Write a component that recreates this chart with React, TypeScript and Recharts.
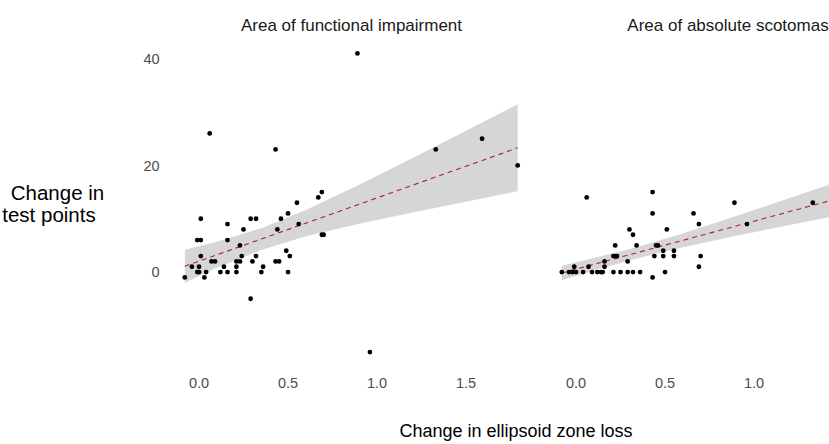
import React from "react";
import { ComposedChart, Scatter, Line, Area, XAxis, YAxis } from "recharts";

// Panel titles
const panelTitles = ["Area of functional impairment", "Area of absolute scotomas"];

// Tick labels
const xTicksLeft = [0, 0.5, 1, 1.5];
const xTicksRight = [0, 0.5, 1];
const yTicks = [0, 20, 40];

// Area of functional impairment: points (x = change in EZ loss, y = change in test points)
const fiX = [-0.08, -0.04, -0.01, 0.0, 0.0, 0.01, -0.01, 0.01, 0.01, 0.03, 0.04, 0.06, 0.07, 0.09, 0.12, 0.14, 0.16, 0.16, 0.16, 0.21, 0.21, 0.21, 0.23, 0.23, 0.24, 0.25, 0.29, 0.29, 0.32, 0.3, 0.32, 0.35, 0.36, 0.43, 0.44, 0.43, 0.45, 0.46, 0.49, 0.5, 0.51, 0.5, 0.55, 0.56, 0.67, 0.69, 0.69, 0.7, 0.89, 0.96, 1.33, 1.59, 1.79];
const fiY = [-1, 1, 0, 0, 1, 3, 6, 6, 10, -1, 0, 26, 2, 2, 0, 1, 0, 6, 9, 0, 1, 2, 2, 5, 3, 8, -5, 10, 10, 2, 3, 0, 1, 23, 8, 2, 2, 10, 4, 11, 3, 0, 13, 9, 14, 15, 7, 7, 41, -15, 23, 25, 20];

// Area of absolute scotomas: points
const asX = [-0.08, -0.04, -0.02, 0.0, 0.04, 0.09, 0.12, 0.14, 0.15, 0.21, 0.25, 0.29, 0.32, 0.36, 0.5, -0.01, 0.07, 0.16, 0.16, 0.21, 0.22, 0.23, 0.22, 0.29, 0.3, 0.32, 0.34, 0.43, 0.43, 0.43, 0.44, 0.45, 0.46, 0.49, 0.49, 0.51, 0.55, 0.55, 0.66, 0.69, 0.69, 0.7, 0.89, 0.96, 1.33, 0.06];
const asY = [0, 0, 0, 0, 0, 0, 0, 0, 0, 0, 0, 0, 0, 0, 0, 1, 1, 2, 1, 3, 3, 3, 5, 2, 8, 7, 5, -1, 15, 11, 3, 5, 5, 3, 4, 8, 4, 3, 11, 9, 1, 3, 13, 9, 13, 14];

// Linear fits with 95% confidence bands
const bandX = [-0.08, 0.1, 0.35, 0.6, 0.9, 1.2, 1.5, 1.79];
const fiFit = [1.1, 3.24, 6.2, 9.17, 12.73, 16.29, 19.86, 23.3];
const fiLo = [-2.0, 0.79, 4.16, 6.7, 9.07, 11.18, 13.21, 15.15];
const fiHi = [4.2, 5.69, 8.24, 11.64, 16.39, 21.4, 26.51, 31.45];
const asFit = [-0.17, 1.45, 3.7, 5.95, 8.65, 11.35, 14.05, 16.66];
const asLo = [-1.52, 0.28, 2.64, 4.65, 6.8, 8.83, 10.83, 12.73];
const asHi = [1.18, 2.62, 4.76, 7.25, 10.5, 13.87, 17.27, 20.59];

const X_DOMAIN: [number, number] = [-0.176, 1.884];
const Y_DOMAIN: [number, number] = [-17.8, 43.8];

const FONT = "'Liberation Sans', Arial, Helvetica, sans-serif";

const pts = (xs: number[], ys: number[]) => xs.map((x, i) => ({ x, y: ys[i] }));
const band = (fit: number[], lo: number[], hi: number[]) =>
  bandX.map((x, i) => ({ x, fit: fit[i], band: [lo[i], hi[i]] }));

const Dot = (props: any) => <circle cx={props.cx} cy={props.cy} r={2.4} fill="#000" />;

function Panel({
  rows,
  points,
  showY,
  width,
  margin,
  xTicks,
}: {
  rows: any[];
  points: any[];
  showY: boolean;
  width: number;
  margin: any;
  xTicks: number[];
}) {
  return (
    <ComposedChart width={width} height={444} data={rows} margin={margin}>
      <XAxis
        dataKey="x"
        type="number"
        domain={X_DOMAIN}
        allowDataOverflow
        ticks={xTicks}
        tickFormatter={(v: number) => v.toFixed(1)}
        axisLine={false}
        tickLine={false}
        tickMargin={5}
        height={30}
        tick={{ fill: "#4d4d4d", fontSize: 14.5 }}
        interval={0}
      />
      <YAxis
        type="number"
        domain={Y_DOMAIN}
        allowDataOverflow
        ticks={yTicks}
        hide={!showY}
        width={showY ? 167.7 : 0}
        axisLine={false}
        tickLine={false}
        tick={{ fill: "#4d4d4d", fontSize: 14.5 }}
        interval={0}
      />
      <Area
        dataKey="band"
        type="linear"
        stroke="none"
        fill="#999999"
        fillOpacity={0.4}
        isAnimationActive={false}
        activeDot={false}
        dot={false}
      />
      <Line
        dataKey="fit"
        type="linear"
        stroke="#b22222"
        strokeWidth={1.1}
        strokeDasharray="5 4"
        dot={false}
        activeDot={false}
        isAnimationActive={false}
      />
      <Scatter data={points} dataKey="y" shape={Dot} isAnimationActive={false} />
    </ComposedChart>
  );
}

export default function App() {
  return (
    <div
      style={{
        position: "absolute",
        left: 0,
        top: 0,
        width: 829,
        height: 444,
        overflow: "hidden",
        background: "#fff",
        fontFamily: FONT,
      }}
    >
      <div style={{ position: "absolute", left: 0, top: 0 }}>
        <Panel
          rows={band(fiFit, fiLo, fiHi)}
          points={pts(fiX, fiY)}
          showY
          width={545}
          xTicks={xTicksLeft}
          margin={{ top: 38.5, right: 10.6, bottom: 47, left: 0 }}
        />
      </div>
      <div style={{ position: "absolute", left: 540, top: 0 }}>
        <Panel
          rows={band(asFit, asLo, asHi)}
          points={pts(asX, asY)}
          showY={false}
          width={380}
          xTicks={xTicksRight}
          margin={{ top: 38.5, right: 8.6, bottom: 47, left: 4.7 }}
        />
      </div>
      <svg
        width={829}
        height={444}
        style={{ position: "absolute", left: 0, top: 0, pointerEvents: "none" }}
      >
        <text x={351.5} y={31} textAnchor="middle" fontSize={17} fill="#1a1a1a" fontFamily={FONT}>
          {panelTitles[0]}
        </text>
        <text x={728} y={31} textAnchor="middle" fontSize={17} fill="#1a1a1a" fontFamily={FONT}>
          {panelTitles[1]}
        </text>
        <text x={516} y={437} textAnchor="middle" fontSize={18} fill="#000" fontFamily={FONT}>
          Change in ellipsoid zone loss
        </text>
        <text x={57.5} y={200} textAnchor="middle" fontSize={20.5} fill="#000" fontFamily={FONT}>
          Change in
        </text>
        <text x={49} y={222} textAnchor="middle" fontSize={20.5} fill="#000" fontFamily={FONT}>
          test points
        </text>
      </svg>
    </div>
  );
}
